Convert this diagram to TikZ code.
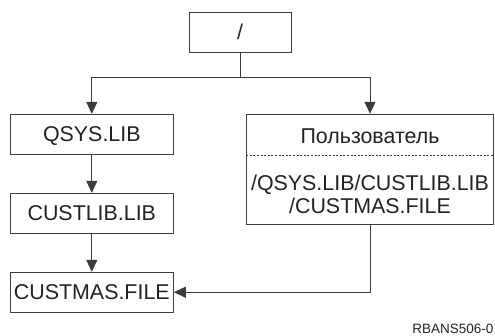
\documentclass[tikz,border=0pt]{standalone}
\usepackage{fontspec}
\setmainfont{Liberation Sans}
\usetikzlibrary{arrows.meta,positioning}
\definecolor{ibmInk} {HTML}{222222}
\definecolor{ibmRule}{HTML}{3C3C3C}

\begin{document}
\begin{tikzpicture}[x=1pt,y=1pt,
    font=\fontsize{21.4}{23}\selectfont,text=ibmInk,
    box/.style={draw=ibmRule,line width=1pt,minimum height=39.7pt,
                text height=15.2pt,text depth=0pt,inner sep=0pt},
    libbox/.style={box,minimum width=163pt},
    link/.style={draw=ibmRule,line width=1pt,
                 -{Triangle[length=12pt,width=11pt]}}]
  \useasboundingbox (0,0) rectangle (495,-335);

  \node[box,minimum width=101.7pt] (root) at (240.2,-32.2) {/};

  % left column
  \node[libbox] (qsys) at (91.8,-134.2) {QSYS.LIB};
  \node[libbox,below=38.3pt of qsys] (custlib) {CUSTLIB.LIB};
  \node[libbox,below=38.3pt of custlib] (custmas) {CUSTMAS.FILE};

  % user box with path
  \node[draw=ibmRule,line width=1pt,minimum width=246.6pt,minimum height=110pt,
        inner sep=0pt] (user) at (370,-169.3) {};
  \node[anchor=base,inner sep=0pt] (username) at (370,-143.3) {Пользователь};
  \node[align=center,inner sep=0pt,anchor=base] (userpath) at (370,-213)
    {/QSYS.LIB/CUSTLIB.LIB\\/CUSTMAS.FILE};
  \draw[ibmRule,line width=0.8pt,dash pattern=on 2pt off 1.6pt]
    (user.west |- 0,-155) -- (user.east |- 0,-155);

  \coordinate (split) at (root.south |- 0,-77.3);
  \draw[ibmRule,line width=1pt] (root) -- (split);
  \draw[link] (split) -| (qsys);
  \draw[link] (split) -| (user);
  \draw[link] (qsys) -- (custlib);
  \draw[link] (custlib) -- (custmas);
  \draw[link] (user.south) |- (custmas.east);

  \node[anchor=base east,inner sep=0pt,font=\fontsize{13.5}{15}\selectfont]
    (figid) at (493.5,-333) {RBANS506-0};
\end{tikzpicture}
\end{document}
